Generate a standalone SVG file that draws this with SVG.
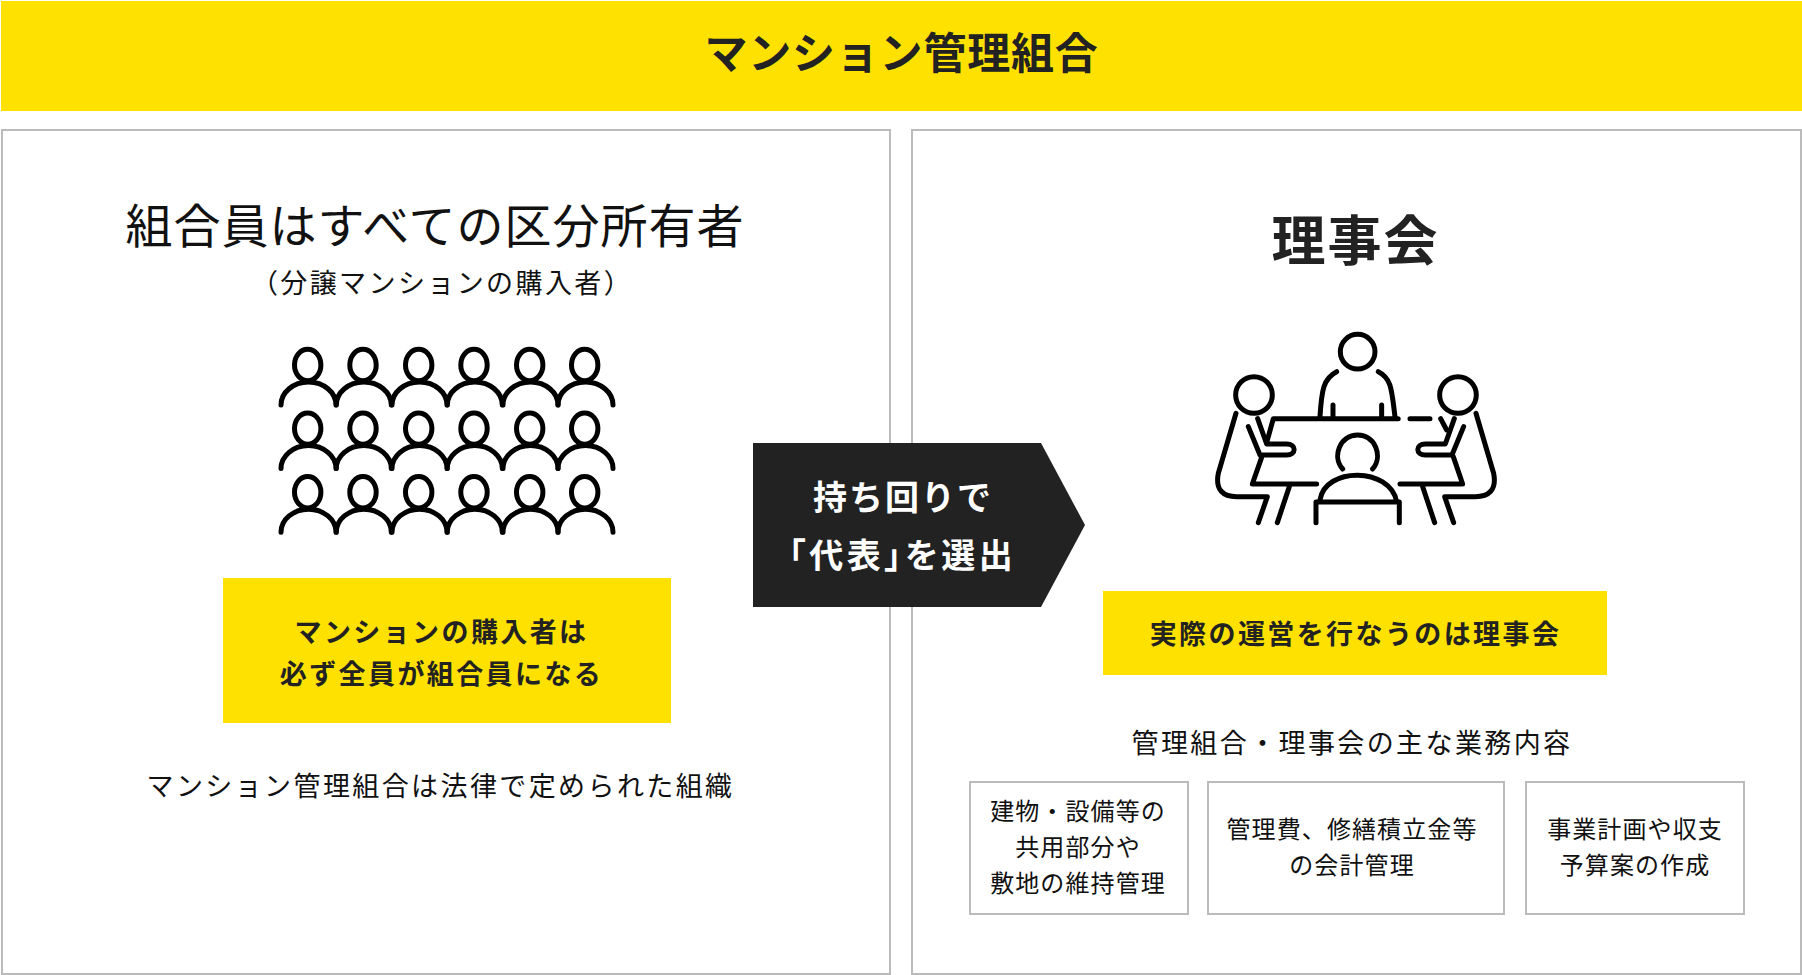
<svg xmlns="http://www.w3.org/2000/svg" xmlns:xlink="http://www.w3.org/1999/xlink" width="1802" height="975" viewBox="0 0 1802 975">
<style>
text{font-family:"Noto Sans CJK JP","Noto Sans",sans-serif;fill:#111;text-anchor:middle}
.b{font-weight:700;fill:#222}
.panel{fill:#fff;stroke:#bbb;stroke-width:2}
.small{fill:#fff;stroke:#bbb;stroke-width:2}
.y{fill:#ffe100}
.ic{fill:none;stroke:#000;stroke-linecap:round;stroke-linejoin:round}
.t23{font-size:24px;letter-spacing:1.1px}
.t26{font-size:27px;letter-spacing:2.4px}
.b.w{fill:#fff;font-size:34px;letter-spacing:2px}
</style>
<defs>
<g id="person"><ellipse cx="307.7" cy="365" rx="13.2" ry="15.7"/><path d="M281 405A27.5 23 0 0 1 336 405"/></g>
<g id="row"><use xlink:href="#person"/><use xlink:href="#person" x="55.3"/><use xlink:href="#person" x="111"/><use xlink:href="#person" x="166.3"/><use xlink:href="#person" x="222"/><use xlink:href="#person" x="277"/></g>
</defs>
<rect width="1802" height="975" fill="#fff"/>
<g id="banner"><rect class="y" x="1" y="1" width="1801" height="110"/><text class="b" x="901.5" y="69" font-size="43" style="letter-spacing:.8px">マンション管理組合</text></g>
<g id="left-panel">
<rect class="panel" x="2" y="130" width="888" height="844"/>
<text x="435" y="242.5" font-size="47" style="letter-spacing:1px">組合員はすべての区分所有者</text>
<text x="442" y="292.5" class="t26">（分譲マンションの購入者）</text>
<g id="members" class="ic" stroke-width="5"><use xlink:href="#row"/><use xlink:href="#row" y="63.6"/><use xlink:href="#row" y="127.2"/></g>
<rect class="y" x="223" y="578" width="448" height="145"/>
<text class="b t26" x="441.5" y="642">マンションの購入者は</text>
<text class="b t26" x="441.5" y="684">必ず全員が組合員になる</text>
<text class="t26" x="440.5" y="796">マンション管理組合は法律で定められた組織</text>
</g>
<g id="right-panel">
<rect class="panel" x="912" y="130" width="889" height="844"/>
<text class="b" x="1355.5" y="261" font-size="54" style="letter-spacing:2px">理事会</text>
<g id="board" transform="translate(1190 320) scale(.3333)" class="ic" stroke-width="15">
<circle cx="503" cy="95" r="52"/>
<path d="M440 155C400 175 395 210 390 290M565 155C605 175 605 210 615 290M429 255V290M575 255V290"/>
<path d="M380 492H187L215 412M230 368L250 296H625M660 296H720M752 296L770 330M630 492H818L790 410"/>
<circle cx="192" cy="225" r="55"/><circle cx="804" cy="225" r="55"/>
<path d="M138 280L85 460C75 510 100 530 140 530H232L205 608M298 500L262 608M175 320L210 405H290C320 405 320 372 290 372H230L203 296"/>
<path d="M858 280L911 460C921 510 896 530 856 530H764L791 608M698 500L734 608M821 320L786 405H706C676 405 676 372 706 372H766L793 296"/>
<path d="M458 447C425 410 450 345 503 345C556 345 580 410 548 447M390 540C405 440 600 440 620 545M378 608V546H628V608"/>
</g>
<rect class="y" x="1103" y="591" width="504" height="84"/>
<text class="b t26" x="1355.5" y="644">実際の運営を行なうのは理事会</text>
<text class="t26" x="1352" y="752.5">管理組合・理事会の主な業務内容</text>
</g>
<g id="task1"><rect class="small" x="970" y="782" width="218" height="132"/><text class="t23" x="1078" y="820">建物・設備等の</text><text class="t23" x="1078" y="856">共用部分や</text><text class="t23" x="1078" y="892">敷地の維持管理</text></g>
<g id="task2"><rect class="small" x="1208" y="782" width="296" height="132"/><text class="t23" x="1352" y="838">管理費、修繕積立金等</text><text class="t23" x="1352" y="874">の会計管理</text></g>
<g id="task3"><rect class="small" x="1526" y="782" width="218" height="132"/><text class="t23" x="1635" y="838">事業計画や収支</text><text class="t23" x="1635" y="874">予算案の作成</text></g>
<g id="connectors"><path id="arrow" d="M753 443H1041L1085 525L1041 607H753Z" fill="#222"/></g>
<g id="arrow-label"><text class="b w" x="903" y="510">持ち回りで</text><text class="b w" x="902.5" y="568" style="font-feature-settings:'palt';letter-spacing:3.6px">「代表」を選出</text></g>
</svg>
